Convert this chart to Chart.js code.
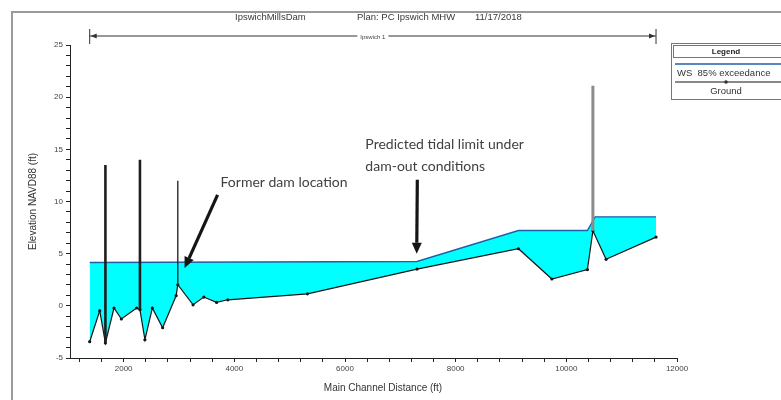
<!DOCTYPE html>
<html><head><meta charset="utf-8">
<script src="https://cdn.jsdelivr.net/npm/chart.js@4"></script>
<style>html,body{margin:0;padding:0;background:#fff}#wrap{width:781px;height:400px;position:relative;overflow:hidden}</style>
</head><body><div id="wrap"><canvas id="c" width="781" height="400"></canvas></div>
<script>
// ---- data ----
const groundStations = [1386, 1567, 1670, 1825, 1958, 2235, 2294, 2384, 2518, 2704, 2948, 2978, 3254, 3449, 3679, 3883, 5321, 7301, 9135, 9738, 10381, 10480, 10718, 11621];
const groundElev     = [-3.44, -0.47, -3.56, -0.21, -1.26, -0.21, -0.37, -3.25, -0.21, -2.10, 0.97, 2.02, 0.10, 0.84, 0.33, 0.58, 1.15, 3.52, 5.47, 2.57, 3.48, 7.19, 4.46, 6.59];
const wsStations = [1386, 7301, 9135, 10381, 10520, 11621];
const wsElev     = [4.15, 4.25, 7.22, 7.22, 8.53, 8.53];
const structStations = [1670, 2294, 2978, 10480];
const structBottom   = [-3.56, -0.37, 2.02, 7.19];
const structTop      = [13.5, 14.0, 12.0, 21.1];
const structColors   = ['#1e1e1e', '#1e1e1e', '#2a2a2a', '#8c8c8c'];
const structWidths   = [2.6, 2.6, 1.4, 3];
const xMajorTicks = [2000, 4000, 6000, 8000, 10000, 12000];
const yMajorTicks = [-5, 0, 5, 10, 15, 20, 25];
const xMinorStep = 400;
const yMinorStep = 1;
const xRange = [1030, 12000];
const yRange = [-5, 25];
const titleParts = ['IpswichMillsDam', 'Plan: PC Ipswich MHW', '11/17/2018'];
const reachName = 'Ipswich 1';
const seriesLabels = ['WS  85% exceedance', 'Ground'];
const xTitle = 'Main Channel Distance (ft)';
const yTitle = 'Elevation NAVD88 (ft)';
const noteTexts = ['Former dam location', 'Predicted tidal limit under', 'dam-out conditions'];
const noteX = [3751, 6368, 6368];
const noteY = [11.8, 15.43, 13.32];
const arrowFrom = [[3697, 10.64], [7307, 12.08]];
const arrowTo   = [[3101, 3.62], [7296, 4.99]];

const pts = (xs, ys) => xs.map((x, i) => ({x, y: ys[i]}));

const datasets = [
  {label: seriesLabels[0], data: pts(wsStations, wsElev), borderColor: '#1f5fa8', borderWidth: 1.4,
   pointRadius: 0, fill: {target: 1, above: '#00ffff', below: 'rgba(0,0,0,0)'}, order: 3, tension: 0},
  {label: seriesLabels[1], data: pts(groundStations, groundElev), borderColor: '#151515', borderWidth: 1.2,
   pointRadius: 1.6, pointBackgroundColor: '#151515', pointBorderWidth: 0, fill: false, order: 2, tension: 0}
];
structStations.forEach((s, i) => {
  datasets.push({label: 'struct' + i, data: [{x: s, y: structBottom[i]}, {x: s, y: structTop[i]}],
    borderColor: structColors[i], borderWidth: structWidths[i], pointRadius: 0, fill: false, order: 1});
});

function stepTicks(min, max, step) {
  const out = [];
  for (let v = Math.ceil(min / step) * step; v <= max + 1e-9; v += step) out.push({value: v});
  return out;
}

const decor = {
  id: 'decor',
  beforeDraw(chart) {
    const c = chart.ctx;
    c.save();
    c.fillStyle = '#fff'; c.fillRect(0, 0, chart.width, chart.height);
    c.strokeStyle = '#9a9a9a'; c.lineWidth = 2;
    c.strokeRect(12, 12, 800, 400);
    c.restore();
  },
  afterDraw(chart) {
    const c = chart.ctx, xs = chart.scales.x, ys = chart.scales.y;
    c.save();
    // title
    c.fillStyle = '#3a3a3a'; c.font = '9.5px Arial'; c.textAlign = 'left'; c.textBaseline = 'middle';
    [235, 357, 475].forEach((px, i) => c.fillText(titleParts[i], px, 17));
    // x axis title
    c.fillStyle = '#333'; c.font = '10px Arial'; c.textAlign = 'center';
    c.fillText(xTitle, 383, 388);
    // reach line
    const rx1 = xs.getPixelForValue(groundStations[0]), rx2 = xs.getPixelForValue(groundStations[groundStations.length - 1]);
    const ry = 36;
    c.strokeStyle = '#333'; c.lineWidth = 1;
    c.beginPath(); c.moveTo(rx1, ry); c.lineTo(rx2, ry);
    c.moveTo(rx1, 29); c.lineTo(rx1, 44); c.moveTo(rx2, 29); c.lineTo(rx2, 44); c.stroke();
    c.fillStyle = '#333';
    c.beginPath(); c.moveTo(rx1 + 1, ry); c.lineTo(rx1 + 7, ry - 2.5); c.lineTo(rx1 + 7, ry + 2.5); c.fill();
    c.beginPath(); c.moveTo(rx2 - 1, ry); c.lineTo(rx2 - 7, ry - 2.5); c.lineTo(rx2 - 7, ry + 2.5); c.fill();
    c.font = '6px Arial';
    const mx = (rx1 + rx2) / 2, tw = c.measureText(reachName).width;
    c.fillStyle = '#fff'; c.fillRect(mx - tw / 2 - 3, ry - 4, tw + 6, 8);
    c.fillStyle = '#444'; c.fillText(reachName, mx, ry + 1);
    // annotations
    c.fillStyle = '#404040'; c.font = '14px Lato'; c.textAlign = 'left';
    noteTexts.forEach((t, i) => c.fillText(t, xs.getPixelForValue(noteX[i]), ys.getPixelForValue(noteY[i])));
    arrowFrom.forEach((f, i) => {
      const x1 = xs.getPixelForValue(f[0]), y1 = ys.getPixelForValue(f[1]);
      const x2 = xs.getPixelForValue(arrowTo[i][0]), y2 = ys.getPixelForValue(arrowTo[i][1]);
      const a = Math.atan2(y2 - y1, x2 - x1), L = 11, W = 5;
      const bx = x2 - L * Math.cos(a), by = y2 - L * Math.sin(a);
      c.strokeStyle = '#151515'; c.lineWidth = 3.2; c.lineCap = 'butt';
      c.beginPath(); c.moveTo(x1, y1); c.lineTo(bx, by); c.stroke();
      c.fillStyle = '#151515';
      c.beginPath(); c.moveTo(x2, y2);
      c.lineTo(bx + W * Math.sin(a), by - W * Math.cos(a));
      c.lineTo(bx - W * Math.sin(a), by + W * Math.cos(a)); c.closePath(); c.fill();
    });
    // legend
    const lx = 671, ly = 43, lw = 120, lh = 56;
    c.fillStyle = '#fff'; c.fillRect(lx, ly, lw, lh);
    c.strokeStyle = '#777'; c.lineWidth = 1;
    c.strokeRect(lx + 0.5, ly + 0.5, lw, lh);
    c.strokeRect(lx + 2.5, ly + 2.5, lw, 12);
    c.fillStyle = '#222'; c.font = 'bold 8px Arial'; c.textAlign = 'center';
    c.fillText('Legend', 726, ly + 9);
    c.strokeStyle = '#1f5fa8'; c.lineWidth = 1.4;
    c.beginPath(); c.moveTo(lx + 4, 64); c.lineTo(781, 64); c.stroke();
    c.fillStyle = '#333'; c.font = '9.5px Arial'; c.textAlign = 'left';
    c.fillText(seriesLabels[0], lx + 6, 73);
    c.strokeStyle = '#151515'; c.lineWidth = 1.2;
    c.beginPath(); c.moveTo(lx + 4, 82); c.lineTo(781, 82); c.stroke();
    c.beginPath(); c.arc(726, 82, 1.8, 0, Math.PI * 2); c.fill();
    c.textAlign = 'center'; c.fillText(seriesLabels[1], 726, 91);
    c.restore();
  }
};

new Chart(document.getElementById('c'), {
  type: 'line',
  data: {datasets},
  options: {
    responsive: false, animation: false, devicePixelRatio: 1,
    layout: {padding: {left: 13, top: 45, right: 104, bottom: 0}},
    plugins: {legend: {display: false}, tooltip: {enabled: false}},
    scales: {
      x: {
        type: 'linear', min: xRange[0], max: xRange[1],
        afterBuildTicks: s => { s.ticks = stepTicks(xRange[0], xRange[1], xMinorStep); },
        afterFit: s => { s.height = 42; },
        ticks: {autoSkip: false, maxRotation: 0, padding: 2, color: '#444', font: {size: 8, family: 'Arial'},
          callback: v => xMajorTicks.includes(v) ? String(v) : ''},
        grid: {drawOnChartArea: false, drawTicks: true, tickLength: 4, color: '#222'},
        border: {display: true, color: '#222', width: 1},
        title: {display: false}
      },
      y: {
        type: 'linear', min: yRange[0], max: yRange[1],
        afterBuildTicks: s => { s.ticks = stepTicks(yRange[0], yRange[1], yMinorStep); },
        afterFit: s => { s.width = 57; },
        ticks: {autoSkip: false, padding: 3, color: '#444', font: {size: 8, family: 'Arial'},
          callback: v => yMajorTicks.includes(v) ? String(v) : ''},
        grid: {drawOnChartArea: false, drawTicks: true, tickLength: 4, color: '#222'},
        border: {display: true, color: '#222', width: 1},
        title: {display: true, text: yTitle, color: '#333', font: {size: 10, family: 'Arial'}, padding: {top: 14, bottom: 0}}
      }
    }
  },
  plugins: [decor]
});
</script></body></html>
